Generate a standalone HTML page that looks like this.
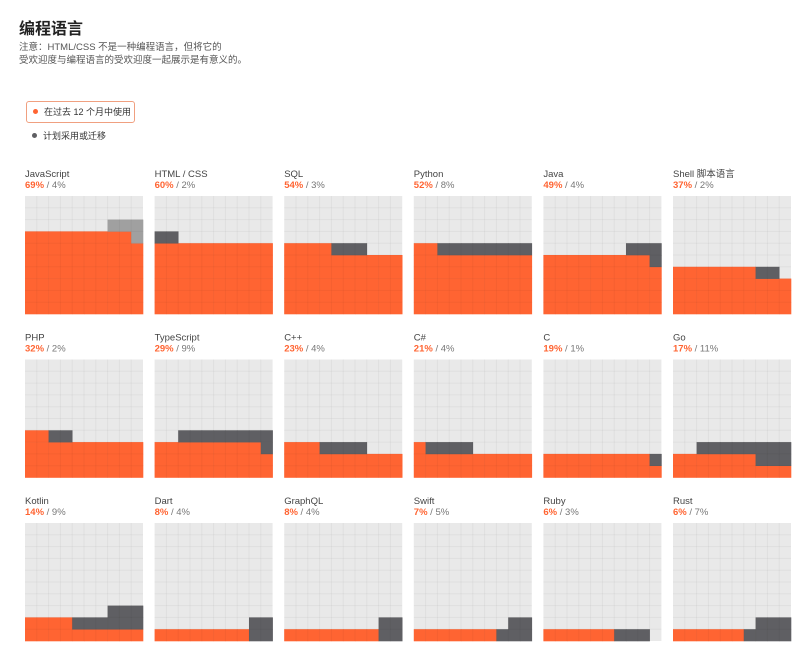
<!DOCTYPE html>
<html><head><meta charset="utf-8"><style>
body{margin:0;width:800px;height:650px;background:#fff;font-family:"Liberation Sans","Noto Sans CJK SC",sans-serif;overflow:hidden;position:relative}
.t{position:absolute;white-space:nowrap}
</style></head><body>
<div class="t" style="left:19px;top:21px;font-size:16px;line-height:18px;font-weight:bold;color:#222">编程语言</div>
<div class="t" style="left:19px;top:41px;font-size:9.5px;line-height:13px;color:#555">注意：HTML/CSS 不是一种编程语言，但将它的<br>受欢迎度与编程语言的受欢迎度一起展示是有意义的。</div>
<div class="t" style="left:26px;top:101px;width:107px;height:20px;border:1px solid #f0a080;border-radius:3px;font-size:9px;line-height:20px;color:#333;overflow:hidden"><span style="display:inline-block;width:5px;height:5px;border-radius:50%;background:#ff6432;margin:0 6px 1px 6px"></span>在过去 12 个月中使用</div>
<div class="t" style="left:26px;top:126px;font-size:9px;line-height:20px;color:#333"><span style="display:inline-block;width:5px;height:5px;border-radius:50%;background:#5f5f63;margin:0 6px 1px 6px"></span>计划采用或迁移</div>
<svg id="chart" width="800" height="650" style="position:absolute;left:0;top:0"></svg>
<script>
const languages=["JavaScript","HTML / CSS","SQL","Python","Java","Shell 脚本语言","PHP","TypeScript","C++","C#","C","Go","Kotlin","Dart","GraphQL","Swift","Ruby","Rust"];
const usedPct=[69,60,54,52,49,37,32,29,23,21,19,17,14,8,8,7,6,6];
const plannedPct=[4,2,3,8,4,2,2,9,4,4,1,11,9,4,4,5,3,7];
const NS="http://www.w3.org/2000/svg";
const svg=document.getElementById('chart');
const colX=i=>25+i*129.6, rowY=r=>196+r*163.5, cell=11.8;
function cellPos(k,used){
  const row=Math.floor(k/10); let col=k%10;
  if(k>=used){
    const usedRow=Math.floor(used/10);
    if(row>usedRow && (row-usedRow)%2===1) col=9-col;
  }
  return [col,row];
}
function mk(tag,attrs){const e=document.createElementNS(NS,tag);for(const a in attrs)e.setAttribute(a,attrs[a]);return e;}
languages.forEach((name,i)=>{
  const gx=colX(i%6), gy=rowY(Math.floor(i/6));
  const g=mk('g',{});
  
  
  const title=mk('text',{x:gx,y:gy-19,'font-size':9.5,fill:'#444'});
  
  
  title.textContent=name;g.appendChild(title);
  const val=mk('text',{x:gx,y:gy-8,'font-size':9.5,fill:'#777'});
  
  
  const s1=mk('tspan',{fill:'#ff6432','font-weight':'bold'});s1.textContent=usedPct[i]+'%';
  const s2=mk('tspan',{});s2.textContent=' / '+plannedPct[i]+'%';
  val.appendChild(s1);val.appendChild(s2);g.appendChild(val);
  const bg=mk('rect',{x:gx,y:gy,width:cell*10,height:cell*10,fill:'#e9e9e9'});
  
  
  g.appendChild(bg);
  const used=usedPct[i], total=used+plannedPct[i];
  const pc=i===0?'#a0a0a0':'#5f5f63';
  for(let k=0;k<Math.min(total,100);k++){
    const [c,r]=cellPos(k,used);
    const rc=mk('rect',{x:gx+c*cell,y:gy+(9-r)*cell,width:cell+0.3,height:cell+0.3,fill:k<used?'#ff6432':pc});
    
    
    g.appendChild(rc);
  }
  for(let l=1;l<10;l++){
    g.appendChild(mk('line',{x1:gx+l*cell,x2:gx+l*cell,y1:gy,y2:gy+cell*10,stroke:'rgba(0,0,0,0.04)','stroke-width':1}));
    g.appendChild(mk('line',{y1:gy+l*cell,y2:gy+l*cell,x1:gx,x2:gx+cell*10,stroke:'rgba(0,0,0,0.04)','stroke-width':1}));
  }
  svg.appendChild(g);
});
</script>
</body></html>
